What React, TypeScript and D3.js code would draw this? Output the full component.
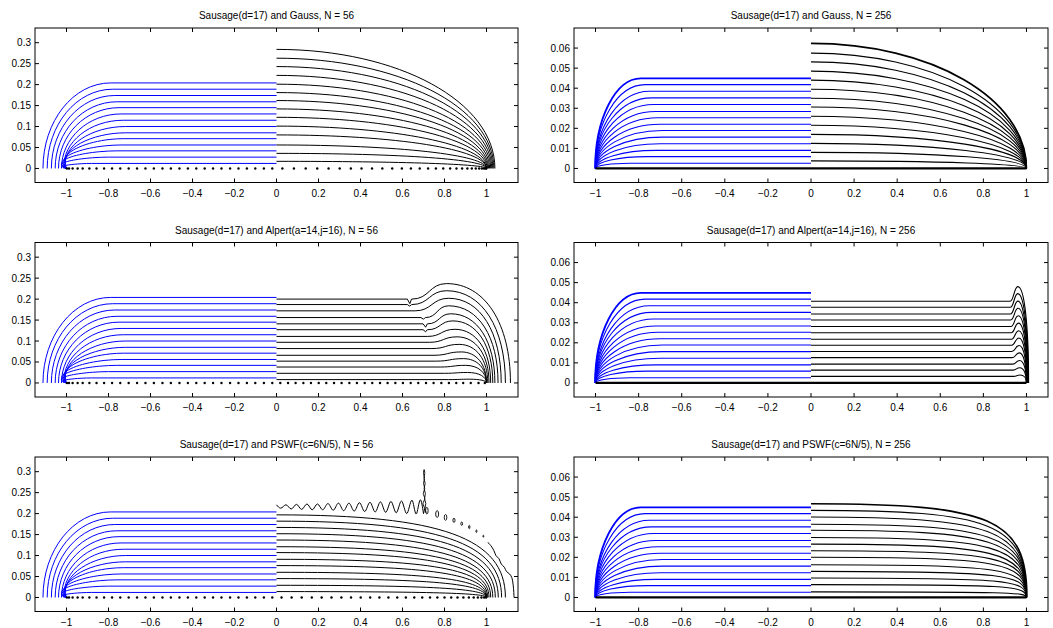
import React from 'react';
import * as d3 from 'd3';

const W = 1053;
const H = 628;

// ---------- layout of the 3x2 grid of axes ----------
const COL_LEFT = [35, 574];
const COL_RIGHT = [518, 1048];
const ROW_TOP = [28, 242.5, 457];
const ROW_H = 154.5;

// ---------- axis limits and ticks ----------
const xDomain56 = [-1.15, 1.15];
const yDomain56 = [-0.0335, 0.335];
const xDomain256 = [-1.1, 1.1];
const yDomain256 = [-0.007, 0.07];
const xTicks = [-1, -0.8, -0.6, -0.4, -0.2, 0, 0.2, 0.4, 0.6, 0.8, 1];
const yTicks56 = [0, 0.05, 0.1, 0.15, 0.2, 0.25, 0.3];
const yTicks256 = [0, 0.01, 0.02, 0.03, 0.04, 0.05, 0.06];

const titles = [
  'Sausage(d=17) and Gauss, N = 56',
  'Sausage(d=17) and Gauss, N = 256',
  'Sausage(d=17) and Alpert(a=14,j=16), N = 56',
  'Sausage(d=17) and Alpert(a=14,j=16), N = 256',
  'Sausage(d=17) and PSWF(c=6N/5), N = 56',
  'Sausage(d=17) and PSWF(c=6N/5), N = 256',
];

// ---------- sausage half (x < 0), blue level curves ----------
const sausage56Levels = [0.012, 0.027, 0.042, 0.056, 0.071, 0.085, 0.1, 0.115, 0.13, 0.145, 0.159, 0.174, 0.189, 0.204];
const sausage56Feet = [-1.0, -1.0, -1.0, -1.0, -1.0, -1.0, -1.004, -1.012, -1.024, -1.038, -1.054, -1.072, -1.092, -1.112];
const sausage56Knees = [-0.88, -0.8, -0.76, -0.74, -0.73, -0.72, -0.72, -0.73, -0.74, -0.75, -0.76, -0.77, -0.78, -0.79];
const sausage56Lean = [0.55, 0.45, 0.38, 0.3, 0.22, 0.15, 0.08, 0.03, 0, 0, 0, 0, 0, 0];

const sausage256Levels = [0.0026, 0.0059, 0.009, 0.0123, 0.0156, 0.0189, 0.022, 0.0253, 0.0284, 0.0319, 0.0352, 0.0385, 0.0418, 0.0449];
const sausage256Feet = [-1.0, -1.0, -1.0, -1.0, -1.0, -1.0, -1.0, -1.0, -1.0, -1.0, -1.001, -1.001, -1.002, -1.002];
const sausage256Knees = [-0.84, -0.76, -0.72, -0.7, -0.69, -0.69, -0.7, -0.71, -0.72, -0.73, -0.74, -0.75, -0.77, -0.79];
const sausage256Lean = [0, 0, 0, 0, 0, 0, 0, 0, 0, 0, 0, 0, 0, 0];

// ---------- method half (x > 0), black level curves ----------
const gauss56Levels = [0.017, 0.036, 0.056, 0.08, 0.101, 0.122, 0.142, 0.162, 0.181, 0.201, 0.222, 0.243, 0.263, 0.284];
const gauss56Feet = [1.0, 1.0, 1.0, 1.0, 1.0, 1.003, 1.006, 1.01, 1.015, 1.02, 1.025, 1.03, 1.035, 1.04];
const gauss56Sq = [0.6, 0.6, 0.58, 0.57, 0.56, 0.56, 0.56, 0.56, 0.56, 0.56, 0.56, 0.56, 0.56, 0.56];

const gauss256Levels = [0.0038, 0.008, 0.0125, 0.017, 0.0215, 0.026, 0.0306, 0.035, 0.0395, 0.044, 0.0485, 0.0531, 0.0575, 0.0623];
const gauss256Feet = [1.0, 1.0, 1.0, 1.0, 1.0, 1.0, 1.0, 1.0, 1.0, 1.0, 1.0, 1.0, 1.0, 1.0];
const gauss256Sq = [0.6, 0.6, 0.58, 0.57, 0.56, 0.56, 0.56, 0.56, 0.56, 0.56, 0.56, 0.56, 0.56, 0.56];

const alpert56Levels = [0.008, 0.023, 0.038, 0.052, 0.066, 0.082, 0.097, 0.111, 0.127, 0.141, 0.156, 0.172, 0.187, 0.2];
const alpert56RiseStart = [0.82, 0.8, 0.78, 0.76, 0.75, 0.74, 0.73, 0.72, 0.72, 0.72, 0.71, 0.66, 0.645, 0.645];
const alpert56PeakX = [0.92, 0.91, 0.9, 0.89, 0.88, 0.87, 0.86, 0.85, 0.84, 0.83, 0.82, 0.82, 0.81, 0.81];
const alpert56PeakY = [0.009, 0.025, 0.042, 0.058, 0.074, 0.092, 0.11, 0.128, 0.148, 0.165, 0.184, 0.202, 0.22, 0.237];
const alpert56Feet = [1.0, 1.0, 1.0, 1.0, 1.0, 1.006, 1.012, 1.02, 1.03, 1.04, 1.055, 1.07, 1.09, 1.114];
const alpert56NotchX = [0, 0, 0, 0, 0, 0, 0, 0, 0.71, 0.71, 0.7, 0, 0.635, 0.635];
const alpert56NotchDepth = [0, 0, 0, 0, 0, 0, 0, 0, 0.005, 0.008, 0.004, 0, 0.004, 0.011];
const alpert56Sq = [0.6, 0.6, 0.6, 0.6, 0.6, 0.6, 0.6, 0.6, 0.6, 0.6, 0.6, 0.6, 0.6, 0.6];

const alpert256Levels = [0.0033, 0.0064, 0.0094, 0.0126, 0.0157, 0.0188, 0.0218, 0.025, 0.0281, 0.0314, 0.0344, 0.0377, 0.0407];
const alpert256RiseStart = [0.94, 0.938, 0.936, 0.934, 0.932, 0.931, 0.93, 0.929, 0.928, 0.927, 0.926, 0.925, 0.924];
const alpert256PeakX = [0.97, 0.969, 0.968, 0.967, 0.966, 0.965, 0.964, 0.963, 0.962, 0.961, 0.96, 0.96, 0.96];
const alpert256PeakY = [0.004, 0.0076, 0.0112, 0.015, 0.0187, 0.0224, 0.026, 0.0298, 0.0335, 0.0372, 0.0408, 0.0445, 0.048];
const alpert256Feet = [1.0, 1.0, 1.0, 1.0, 1.001, 1.002, 1.003, 1.004, 1.005, 1.006, 1.007, 1.008, 1.01];
const alpert256Sq = [0.6, 0.6, 0.6, 0.6, 0.6, 0.6, 0.6, 0.6, 0.6, 0.6, 0.6, 0.6, 0.6];

const pswf56Levels = [0.014, 0.029, 0.045, 0.06, 0.076, 0.091, 0.107, 0.121, 0.137, 0.152, 0.167, 0.182, 0.197];
const pswf56Feet = [1.0, 1.0, 1.0, 1.0, 1.002, 1.006, 1.012, 1.02, 1.03, 1.042, 1.056, 1.072, 1.09];
const pswf56Sq = [0.74, 0.74, 0.74, 0.74, 0.74, 0.74, 0.73, 0.73, 0.72, 0.72, 0.72, 0.72, 0.72];

// the unstable top PSWF curve: ripples, a spike, a chain of small loops and a tail
const pswf56TopWave = [
  [0.0, 0.221], [0.02, 0.213], [0.045, 0.221], [0.07, 0.211], [0.095, 0.222], [0.12, 0.21], [0.145, 0.223],
  [0.17, 0.209], [0.195, 0.223], [0.22, 0.209], [0.245, 0.224], [0.27, 0.208], [0.295, 0.225], [0.32, 0.207],
  [0.345, 0.225], [0.37, 0.206], [0.395, 0.226], [0.42, 0.205], [0.445, 0.227], [0.47, 0.204], [0.495, 0.228],
  [0.52, 0.203], [0.545, 0.229], [0.57, 0.202], [0.595, 0.23], [0.62, 0.2], [0.645, 0.232], [0.665, 0.199],
  [0.685, 0.233], [0.7, 0.2],
];
const pswf56Spike = [
  [0.7, 0.2], [0.705, 0.212], [0.698, 0.224], [0.706, 0.236], [0.699, 0.248], [0.706, 0.26], [0.7, 0.272],
  [0.705, 0.284], [0.7, 0.296], [0.703, 0.305], [0.706, 0.296], [0.702, 0.284], [0.708, 0.272], [0.703, 0.26],
  [0.709, 0.248], [0.705, 0.236], [0.711, 0.224], [0.707, 0.212], [0.713, 0.202],
];
const pswf56Loops = [
  [0.716, 0.207, 0.006, 0.008], [0.765, 0.199, 0.007, 0.008], [0.805, 0.191, 0.006, 0.007],
  [0.845, 0.184, 0.005, 0.005], [0.882, 0.176, 0.004, 0.004], [0.918, 0.168, 0.003, 0.004],
  [0.952, 0.158, 0.0025, 0.003], [0.985, 0.146, 0.002, 0.0025],
];
const pswf56Tail = [
  [1.005, 0.132], [1.02, 0.124], [1.035, 0.112], [1.045, 0.1], [1.06, 0.092], [1.07, 0.08], [1.085, 0.072],
  [1.095, 0.062], [1.11, 0.056], [1.12, 0.048], [1.127, 0.03], [1.13, 0.012], [1.131, 0.0],
];

const pswf256Levels = [0.0028, 0.0064, 0.0097, 0.013, 0.0163, 0.02, 0.0233, 0.0266, 0.0299, 0.0335, 0.0365, 0.0401, 0.0434, 0.0467];
const pswf256Feet = [1.0, 1.0, 1.0, 1.0, 1.0, 1.0, 1.0, 1.0, 1.0, 1.0, 1.0, 1.0, 1.0, 1.002];
const pswf256Sq = [0.93, 0.93, 0.92, 0.91, 0.9, 0.89, 0.88, 0.87, 0.87, 0.86, 0.86, 0.85, 0.85, 0.84];

// ---------- quadrature nodes on the real line (N = 56) ----------
const sausageNodes56 = [0.02, 0.06, 0.101, 0.141, 0.181, 0.221, 0.262, 0.302, 0.342, 0.382, 0.422, 0.462, 0.503, 0.543,
  0.584, 0.624, 0.664, 0.704, 0.744, 0.783, 0.821, 0.857, 0.891, 0.923, 0.947, 0.971, 0.988, 0.998];
const gaussNodes56 = [0.028, 0.083, 0.139, 0.194, 0.248, 0.301, 0.354, 0.405, 0.455, 0.504, 0.551, 0.597, 0.64, 0.682,
  0.722, 0.759, 0.794, 0.827, 0.857, 0.884, 0.909, 0.93, 0.949, 0.965, 0.978, 0.988, 0.995, 0.999];
const alpertNodes56 = [0.018, 0.055, 0.091, 0.128, 0.164, 0.201, 0.237, 0.274, 0.31, 0.347, 0.383, 0.42, 0.456, 0.493,
  0.529, 0.566, 0.602, 0.639, 0.675, 0.712, 0.748, 0.785, 0.821, 0.856, 0.889, 0.925, 0.962, 0.992];
const pswfNodes56 = [0.024, 0.072, 0.12, 0.168, 0.215, 0.262, 0.309, 0.355, 0.401, 0.446, 0.49, 0.533, 0.575, 0.616,
  0.656, 0.694, 0.731, 0.766, 0.8, 0.832, 0.862, 0.89, 0.916, 0.939, 0.959, 0.976, 0.989, 0.998];
const baseline256 = [-1, 1];

const BLUE = '#0000ff';
const BLACK = '#000000';
const FONT = '"Liberation Sans", Arial, Helvetica, sans-serif';

type Scale = d3.ScaleLinear<number, number>;

// flat run at height h from x = 0 out to the knee, then a rounded corner down to the foot on y = 0
function cornerPath(x: Scale, y: Scale, h: number, knee: number, foot: number, sq: number, lean: number) {
  const p = d3.path();
  const span = foot - knee;
  p.moveTo(x(0), y(h));
  p.lineTo(x(knee), y(h));
  p.bezierCurveTo(x(knee + sq * span), y(h), x(foot - lean * span), y(sq * h), x(foot), y(0));
  return p.toString();
}

// flat run, optional notch, rise to a bump, then the corner to the foot
function bumpPath(x: Scale, y: Scale, h: number, xs: number, xp: number, yp: number, foot: number, sq: number,
  nx: number, nd: number) {
  const p = d3.path();
  p.moveTo(x(0), y(h));
  if (nx > 0) {
    p.lineTo(x(nx - 0.012), y(h));
    p.lineTo(x(nx), y(h - nd));
    p.lineTo(x(nx + 0.008), y(h));
  }
  p.lineTo(x(xs), y(h));
  const m = (xp - xs) / 2;
  p.bezierCurveTo(x(xs + m), y(h), x(xp - m), y(yp), x(xp), y(yp));
  const span = foot - xp;
  p.bezierCurveTo(x(xp + sq * span), y(yp), x(foot), y(sq * yp), x(foot), y(0));
  return p.toString();
}

function fmt(v: number) {
  return String(+v.toFixed(4)).replace('-', '\u2212');
}

type PanelProps = { index: number };

function Panel({ index }: PanelProps) {
  const col = index % 2;
  const row = Math.floor(index / 2);
  const big = col === 0;
  const left = COL_LEFT[col];
  const right = COL_RIGHT[col];
  const top = ROW_TOP[row];
  const bottom = top + ROW_H;
  const x = d3.scaleLinear().domain(big ? xDomain56 : xDomain256).range([left, right]);
  const y = d3.scaleLinear().domain(big ? yDomain56 : yDomain256).range([bottom, top]);
  const yTicks = big ? yTicks56 : yTicks256;
  const lw = big ? 1 : 1.1;
  const clipId = `clip${index}`;

  // blue sausage half
  const sLevels = big ? sausage56Levels : sausage256Levels;
  const sFeet = big ? sausage56Feet : sausage256Feet;
  const sKnees = big ? sausage56Knees : sausage256Knees;
  const sLean = big ? sausage56Lean : sausage256Lean;
  const bluePaths = sLevels.map((h, i) =>
    cornerPath(x, y, h, sKnees[i], sFeet[i], 0.552, -sLean[i]));

  // black method half
  let blackPaths: string[] = [];
  const extras: React.ReactNode[] = [];
  if (row === 0) {
    const lv = big ? gauss56Levels : gauss256Levels;
    const ft = big ? gauss56Feet : gauss256Feet;
    const sq = big ? gauss56Sq : gauss256Sq;
    blackPaths = lv.map((h, i) => cornerPath(x, y, h, 0, ft[i], sq[i], 0));
  } else if (row === 1) {
    if (big) {
      blackPaths = alpert56Levels.map((h, i) => bumpPath(x, y, h, alpert56RiseStart[i], alpert56PeakX[i],
        alpert56PeakY[i], alpert56Feet[i], alpert56Sq[i], alpert56NotchX[i], alpert56NotchDepth[i]));
    } else {
      blackPaths = alpert256Levels.map((h, i) => bumpPath(x, y, h, alpert256RiseStart[i], alpert256PeakX[i],
        alpert256PeakY[i], alpert256Feet[i], alpert256Sq[i], 0, 0));
    }
  } else {
    if (big) {
      blackPaths = pswf56Levels.map((h, i) => cornerPath(x, y, h, 0, pswf56Feet[i], pswf56Sq[i], 0));
      const wave = d3.line<number[]>().x((d) => x(d[0])).y((d) => y(d[1])).curve(d3.curveMonotoneX);
      const free = d3.line<number[]>().x((d) => x(d[0])).y((d) => y(d[1])).curve(d3.curveCatmullRom);
      extras.push(<path key="wave" d={wave(pswf56TopWave) || ''} fill="none" stroke={BLACK} strokeWidth={1} />);
      extras.push(<path key="spike" d={free(pswf56Spike) || ''} fill="none" stroke={BLACK} strokeWidth={0.9} />);
      extras.push(<path key="tail" d={free(pswf56Tail) || ''} fill="none" stroke={BLACK} strokeWidth={1} />);
      pswf56Loops.forEach((l, i) => {
        extras.push(<ellipse key={`loop${i}`} cx={x(l[0])} cy={y(l[1])} rx={x(l[2]) - x(0)} ry={y(0) - y(l[3])}
          fill="none" stroke={BLACK} strokeWidth={0.9} />);
      });
    } else {
      blackPaths = pswf256Levels.map((h, i) => cornerPath(x, y, h, 0, pswf256Feet[i], pswf256Sq[i], 0));
    }
  }

  const rightNodes = row === 0 ? gaussNodes56 : row === 1 ? alpertNodes56 : pswfNodes56;
  const nodes = big ? [...sausageNodes56.map((v) => -v), ...rightNodes] : [];
  const topBlueIdx = sLevels.length - 1;
  const topBlackIdx = blackPaths.length - 1;

  return (
    <g>
      <defs>
        <clipPath id={clipId}>
          <rect x={left} y={top} width={right - left} height={bottom - top} />
        </clipPath>
      </defs>
      <g clipPath={`url(#${clipId})`}>
        {bluePaths.map((d, i) => (
          <path key={`b${i}`} d={d} fill="none" stroke={BLUE}
            strokeWidth={!big && i === topBlueIdx ? 1.8 : lw} />
        ))}
        {blackPaths.map((d, i) => (
          <path key={`k${i}`} d={d} fill="none" stroke={BLACK}
            strokeWidth={!big && i === topBlackIdx && row !== 1 ? 1.7 : lw} />
        ))}
        {extras}
        {big
          ? nodes.map((v, i) => <circle key={`n${i}`} cx={x(v)} cy={y(0)} r={1.2} fill={BLACK} />)
          : <line x1={x(baseline256[0])} x2={x(baseline256[1])} y1={y(0)} y2={y(0)} stroke={BLACK} strokeWidth={2.2} />}
      </g>
      {/* axes box and ticks */}
      <rect x={left} y={top} width={right - left} height={bottom - top} fill="none" stroke={BLACK} strokeWidth={1} />
      {xTicks.map((t) => (
        <g key={`xt${t}`}>
          <line x1={x(t)} x2={x(t)} y1={bottom} y2={bottom - 4} stroke={BLACK} strokeWidth={1} />
          <line x1={x(t)} x2={x(t)} y1={top} y2={top + 4} stroke={BLACK} strokeWidth={1} />
          <text x={x(t)} y={bottom + 14} textAnchor="middle" fontSize={10} fontFamily={FONT}>{fmt(t)}</text>
        </g>
      ))}
      {yTicks.map((t) => (
        <g key={`yt${t}`}>
          <line x1={left} x2={left + 4} y1={y(t)} y2={y(t)} stroke={BLACK} strokeWidth={1} />
          <line x1={right} x2={right - 4} y1={y(t)} y2={y(t)} stroke={BLACK} strokeWidth={1} />
          <text x={left - 4} y={y(t) + 3.5} textAnchor="end" fontSize={10} fontFamily={FONT}>{fmt(t)}</text>
        </g>
      ))}
      <text x={(left + right) / 2} y={top - 9} textAnchor="middle" fontSize={10} fontFamily={FONT}>{titles[index]}</text>
    </g>
  );
}

export default function App() {
  return (
    <svg width={W} height={H} viewBox={`0 0 ${W} ${H}`}
      style={{ position: 'absolute', left: 0, top: 0, background: '#ffffff' }}>
      <rect x={0} y={0} width={W} height={H} fill="#ffffff" />
      {[0, 1, 2, 3, 4, 5].map((i) => <Panel key={i} index={i} />)}
    </svg>
  );
}
